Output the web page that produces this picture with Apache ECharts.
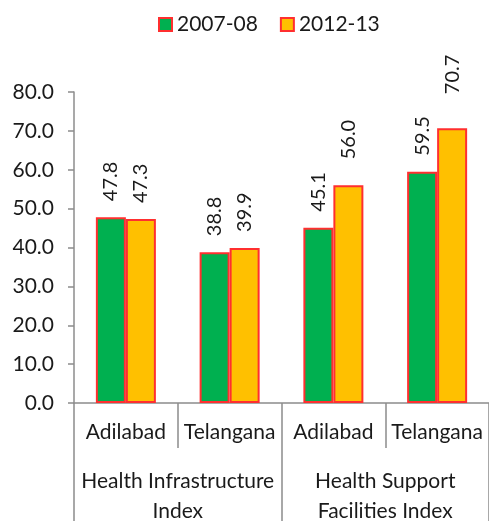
<!DOCTYPE html>
<html>
<head>
<meta charset="utf-8">
<script src="https://cdn.jsdelivr.net/npm/echarts@6/dist/echarts.min.js"></script>
<style>
  html, body { margin: 0; padding: 0; background: #fff; }
  #chart { width: 489px; height: 521px; }
</style>
</head>
<body>
<div id="chart"></div>
<script>
// data
const regions = ['Adilabad', 'Telangana', 'Adilabad', 'Telangana']
const groups = ['Health Infrastructure\nIndex', 'Health Support\nFacilities Index']
const seriesNames = ['2007-08', '2012-13']
const values0708 = [47.8, 38.8, 45.1, 59.5]
const values1213 = [47.3, 39.9, 56.0, 70.7]

const FONT = 'Lato'
const FS = 21
const chart = echarts.init(document.getElementById('chart'))

// the 2012-13 labels sit a bit higher on the last two bars in the original
const extraLift = [0, 0, 10, 18]

function barSeries (name, values, color, lift) {
  return {
    name: name,
    type: 'bar',
    xAxisIndex: 0,
    barWidth: 30,
    barGap: '0%',
    itemStyle: { color: color, borderColor: '#ff2f2f', borderWidth: 2 },
    label: {
      show: true,
      position: 'top',
      rotate: 90,
      align: 'left',
      verticalAlign: 'middle',
      distance: 16,
      fontFamily: FONT,
      fontSize: 20,
      color: '#1a1a1a',
      formatter: p => p.value.toFixed(1)
    },
    data: values.map((v, i) => lift && lift[i]
      ? { value: v, label: { distance: 16 + lift[i] } }
      : v)
  }
}

const option = {
  animation: false,
  backgroundColor: '#fff',
  legend: {
    top: 9,
    left: 153,
    itemWidth: 13,
    itemHeight: 13,
    itemGap: 22,
    icon: 'rect',
    textStyle: { fontFamily: FONT, fontSize: FS, color: '#1a1a1a' },
    data: seriesNames
  },
  grid: { left: 74, top: 92, width: 415, height: 311, outerBoundsMode: 'none' },
  xAxis: [
    {
      type: 'category',
      data: regions,
      axisLine: { lineStyle: { color: '#8c8c8c', width: 1.5 } },
      axisTick: { show: true, interval: 0, length: 45, lineStyle: { color: '#8c8c8c', width: 1.5 } },
      axisLabel: { interval: 0, margin: 19, fontFamily: FONT, fontSize: FS, color: '#1a1a1a' }
    },
    {
      type: 'category',
      position: 'bottom',
      data: groups,
      axisLine: { show: false },
      axisTick: { show: true, interval: 0, length: 120, lineStyle: { color: '#8c8c8c', width: 1.5 } },
      axisLabel: { interval: 0, margin: 63, lineHeight: 30, fontFamily: FONT, fontSize: FS, color: '#1a1a1a' }
    }
  ],
  yAxis: {
    type: 'value',
    min: 0,
    max: 80,
    interval: 10,
    splitLine: { show: false },
    axisLine: { show: true, lineStyle: { color: '#8c8c8c', width: 1.5 } },
    axisTick: { show: true, length: 6, lineStyle: { color: '#8c8c8c', width: 1.5 } },
    axisLabel: {
      margin: 20,
      fontFamily: FONT,
      fontSize: FS,
      color: '#1a1a1a',
      formatter: v => v.toFixed(1)
    }
  },
  series: [
    barSeries(seriesNames[0], values0708, '#00b050'),
    barSeries(seriesNames[1], values1213, '#ffc000', extraLift)
  ]
}

chart.setOption(option)
</script>
</body>
</html>
